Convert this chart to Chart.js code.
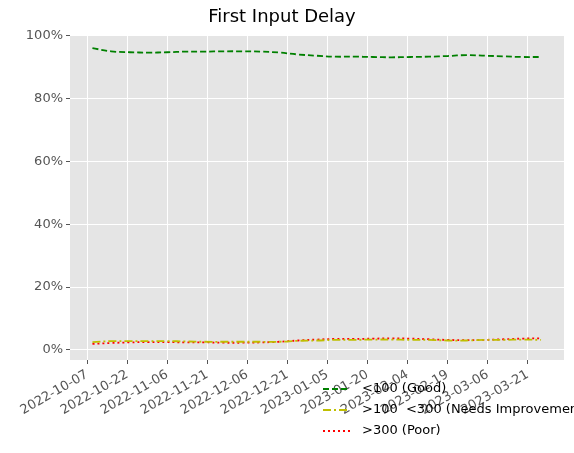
<!DOCTYPE html>
<html>
<head>
<meta charset="utf-8">
<script src="https://cdn.jsdelivr.net/npm/chart.js@4"></script>
<style>body{margin:0;background:#fff}</style>
</head>
<body>
<canvas id="c" width="574" height="453" style="width:574px;height:453px"></canvas>
<script>
// days since 2022-10-07, weekly samples
const days = [2,9,16,23,30,37,44,51,58,65,72,79,86,93,100,107,114,121,128,135,142,149,156,163,170];
const good = [96.0,95.0,94.7,94.6,94.7,94.9,94.9,95.0,95.0,94.9,94.6,94.0,93.6,93.3,93.3,93.2,93.1,93.2,93.3,93.5,93.8,93.6,93.4,93.2,93.2];
const needs = [2.5,2.8,2.8,2.8,2.8,2.7,2.6,2.6,2.6,2.6,2.6,2.9,3.0,3.2,3.2,3.3,3.3,3.2,3.2,3.0,3.0,3.2,3.2,3.3,3.2];
const poor = [1.9,2.2,2.4,2.5,2.5,2.4,2.4,2.3,2.3,2.4,2.6,3.0,3.3,3.5,3.5,3.6,3.7,3.6,3.4,3.2,3.1,3.2,3.4,3.6,3.7];
const tickDays = [0,15,30,45,60,75,90,105,120,135,150,165];
const base = Date.UTC(2022,9,7);
const fmt = d => new Date(base + d*86400000).toISOString().slice(0,10);
const pts = arr => arr.map((v,i)=>({x:days[i],y:v}));

const bg = {
  id:'bg',
  beforeDraw(c){const a=c.chartArea,x=c.ctx;x.save();x.fillStyle='#e5e5e5';x.fillRect(a.left,a.top,a.right-a.left,a.bottom-a.top);x.restore();},
  afterDraw(c){
    const x=c.ctx;x.save();
    const items=[['<100 (Good)','green',[6,3]],['>100  <300 (Needs Improvement)','#bfbf00',[8,3,2,3]],['>300 (Poor)','red',[2,3]]];
    x.font='13px "DejaVu Sans"';x.textBaseline='middle';
    items.forEach((it,i)=>{const y=389+i*21;x.strokeStyle=it[1];x.lineWidth=1.8;x.setLineDash(it[2]);
      x.beginPath();x.moveTo(323,y);x.lineTo(350,y);x.stroke();x.fillStyle='#000';x.fillText(it[0],362,y);});
    x.restore();
  }
};

new Chart(document.getElementById('c'),{
  type:'line',
  data:{datasets:[
    {data:pts(good),borderColor:'green',borderDash:[6,3],borderWidth:1.8,pointRadius:0,tension:0.4},
    {data:pts(needs),borderColor:'#bfbf00',borderDash:[8,3,2,3],borderWidth:1.8,pointRadius:0,tension:0.4},
    {data:pts(poor),borderColor:'red',borderDash:[2,3],borderWidth:1.8,pointRadius:0,tension:0.4}
  ]},
  options:{
    responsive:false,animation:false,
    layout:{padding:{right:10}},
    plugins:{legend:{display:false},tooltip:{enabled:false},
      title:{display:true,text:'First Input Delay',color:'#000',font:{family:'DejaVu Sans',size:18,weight:'normal'},padding:{top:7,bottom:7}}},
    scales:{
      x:{type:'linear',min:-6.4,max:178.6,
        afterBuildTicks(s){s.ticks=tickDays.map(v=>({value:v}));},
        afterFit(s){s.height=93;},
        grid:{color:'#fff',lineWidth:1,drawTicks:true,tickColor:'#555',tickLength:4},
        border:{display:false},
        ticks:{autoSkip:false,maxRotation:30,minRotation:30,color:'#555',font:{family:'DejaVu Sans',size:13},callback:v=>fmt(v)}},
      y:{min:-3.2,max:100,
        afterBuildTicks(s){s.ticks=[0,20,40,60,80,100].map(v=>({value:v}));},
        afterFit(s){s.width=70;},
        grid:{color:'#fff',lineWidth:1,tickColor:'#555',tickLength:4},
        border:{display:false},
        ticks:{color:'#555',font:{family:'DejaVu Sans',size:13},callback:v=>v+'%'}}
    }
  },
  plugins:[bg]
});
</script>
</body>
</html>
